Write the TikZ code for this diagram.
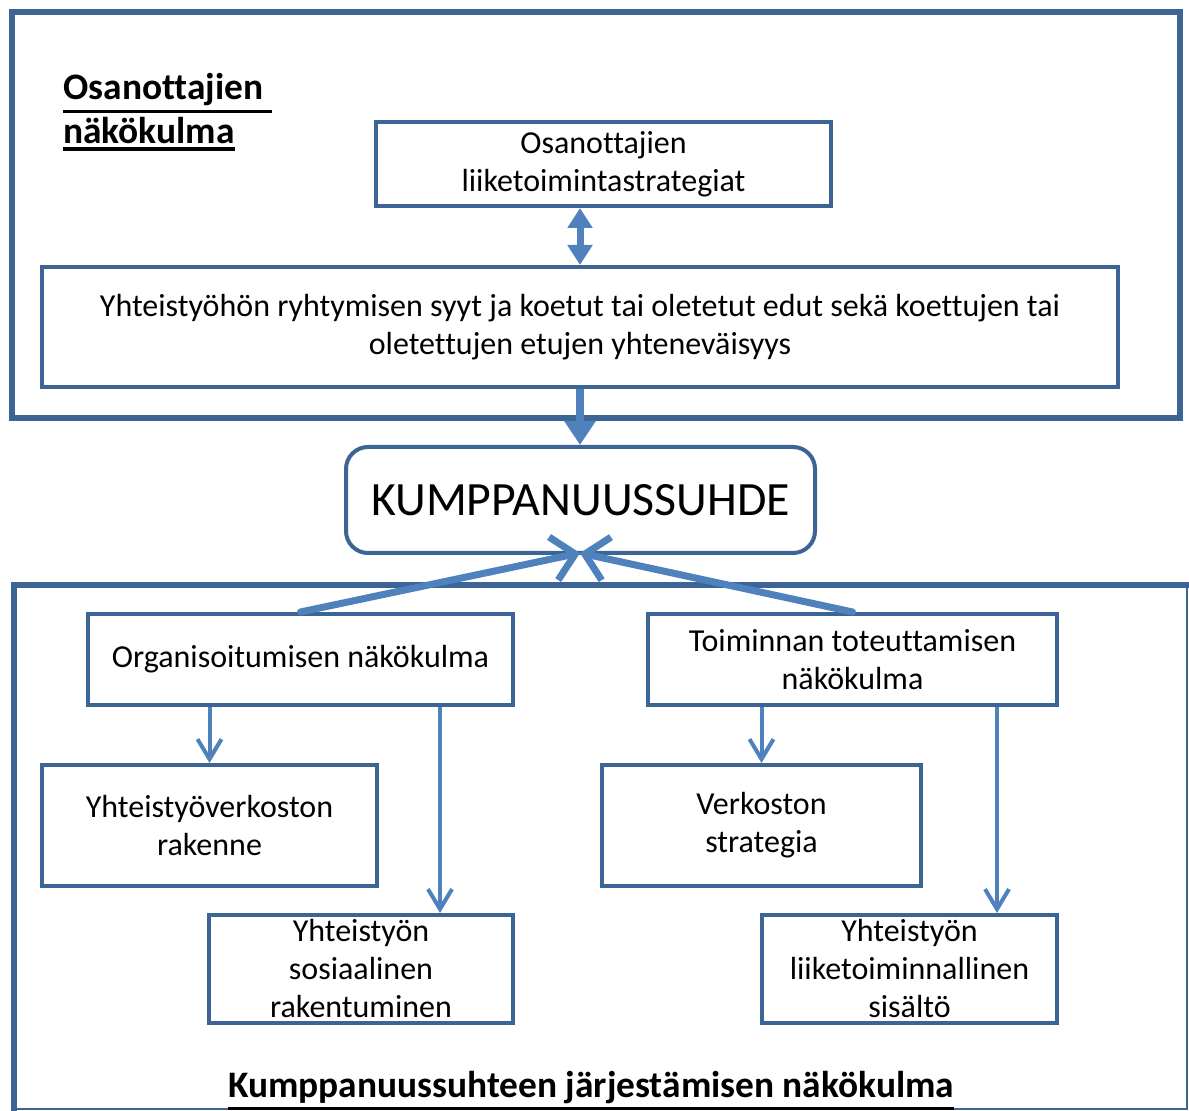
\documentclass[tikz,border=0pt]{standalone}
\usepackage{fontspec}
\setmainfont[Ligatures=CommonOff]{Carlito}
\usetikzlibrary{arrows.meta,calc}
\definecolor{frameblue}{RGB}{60,100,149}
\definecolor{arrowblue}{RGB}{79,129,189}
\newcommand\myul[1]{\leavevmode\vtop{\hbox{#1}\kern1.6pt\hrule height 1.6pt}}
\tikzset{
  box/.style={draw=frameblue, line width=2pt, fill=white, align=center, inner sep=2pt,
    font=\fontsize{16pt}{19pt}\selectfont},
  frameline/.style={draw=frameblue, line width=3pt},
  fatarrow/.style={draw=arrowblue, line width=4pt, -{Triangle[width=15pt,length=12pt]}},
  dblarrow/.style={draw=arrowblue, line width=3.5pt, {Triangle[width=12pt,length=10pt]}-{Triangle[width=12pt,length=10pt]}},
  barbarrow/.style={draw=arrowblue, line width=3.5pt, line cap=round, -{Straight Barb[width=22pt,length=11pt,line width=3.5pt]}},
  thinbarb/.style={draw=arrowblue, line width=2pt, -{Straight Barb[width=12pt,length=10pt,line width=2pt]}},
  titletext/.style={font=\fontsize{18.7pt}{22pt}\selectfont\bfseries, align=left, inner sep=0pt}
}
\begin{document}
\begin{tikzpicture}[x=0.5pt,y=-0.5pt]
\useasboundingbox (0,0) rectangle (1189,1111);
% frames
\draw[frameline] (12,12) rectangle (1180,418);
\draw[frameline] (1189,585) -- (14,585) -- (14,1111);
\draw[draw=frameblue, line width=1pt] (14,1108.5) -- (1187,1108.5) -- (1187,585);
% titles
\node[titletext, anchor=base west] (t1) at (63,100) {\myul{Osanottajien\ }};
\node[titletext, anchor=base west] (t2) at (63,144) {\myul{näkökulma}};
\node[titletext, anchor=base] (t3) at (591,1097) {\myul{Kumppanuussuhteen järjestämisen näkökulma}};
% boxes
\node[box, minimum width=227.5pt, minimum height=42pt] (b1) at (603.5,164) {Osanottajien\\liiketoimintastrategiat};
\node[box, minimum width=538pt, minimum height=60pt] (b2) at (580,327) {Yhteistyöhön ryhtymisen syyt ja koetut tai oletetut edut sekä koettujen tai\\oletettujen etujen yhteneväisyys};
\node[box, rounded corners=11pt, minimum width=234.5pt, minimum height=53pt, font=\fontsize{23.9pt}{30pt}\selectfont] (k) at (580.5,500) {KUMPPANUUSSUHDE};
\node[box, minimum width=212.5pt, minimum height=45.5pt] (b3) at (300.5,659.5) {Organisoitumisen näkökulma};
\node[box, minimum width=204.5pt, minimum height=45.5pt] (b4) at (852.5,659.5) {Toiminnan toteuttamisen\\näkökulma};
\node[box, minimum width=167.5pt, minimum height=60.5pt] (b5) at (209.5,825.5) {Yhteistyöverkoston\\rakenne};
\node[box, minimum width=152pt, minimum height=54pt] (b6) at (361,969) {Yhteistyön\\sosiaalinen\\rakentuminen};
\node[box, minimum width=159.5pt, minimum height=60.5pt] (b7) at (761.5,825.5) {Verkoston\\strategia};
\node[box, minimum width=147.5pt, minimum height=54pt] (b8) at (909.5,969) {Yhteistyön\\liiketoiminnallinen\\sisältö};
% helper coordinates
\coordinate (cx1) at (580,0);
\coordinate (cx2) at (440,0);
\coordinate (cx3) at (997,0);
\coordinate (ks) at (580,553);
% connectors
\draw[dblarrow] (b1.south -| cx1) -- (b2.north -| cx1);
\draw[fatarrow] (b2.south -| cx1) -- (k.north -| cx1);
\draw[barbarrow] (b3.north) -- (ks);
\draw[barbarrow] (b4.north) -- (ks);
\draw[thinbarb] (b3.south -| b5.north) -- (b5.north);
\draw[thinbarb] (b3.south -| cx2) -- (b6.north -| cx2);
\draw[thinbarb] (b4.south -| b7.north) -- (b7.north);
\draw[thinbarb] (b4.south -| cx3) -- (b8.north -| cx3);
\end{tikzpicture}
\end{document}
